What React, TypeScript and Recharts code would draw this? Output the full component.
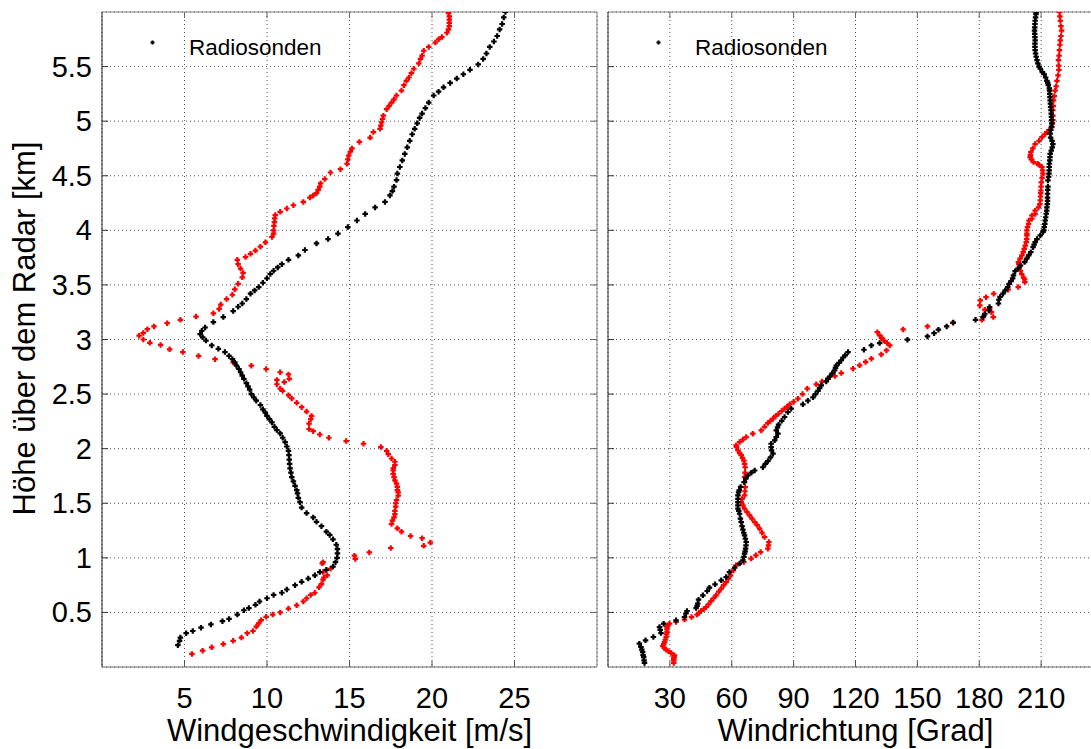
import React from "react";
import { ScatterChart, Scatter, XAxis, YAxis, CartesianGrid, ReferenceLine, Legend } from "recharts";

// ---------- DATA ----------
// [height km, wind speed m/s]
const speedRadiosonde: [number, number][] = [
  [0.2, 4.6], [0.24, 4.7], [0.27, 4.75], [0.31, 5.1], [0.33, 5.5], [0.36, 6.0], [0.39, 6.6], [0.42, 7.3], [0.44, 7.7],
  [0.48, 8.2], [0.52, 8.6], [0.54, 8.9], [0.57, 9.3], [0.6, 9.55], [0.63, 10.0], [0.66, 10.4], [0.68, 10.9], [0.71, 11.2],
  [0.75, 11.7], [0.78, 12.1], [0.81, 12.5], [0.84, 12.9], [0.87, 13.2], [0.89, 13.6], [0.92, 14.0], [0.96, 14.15],
  [1.0, 14.25], [1.04, 14.27], [1.08, 14.27], [1.12, 14.2], [1.17, 14.0], [1.21, 13.8], [1.24, 13.6], [1.29, 13.3],
  [1.33, 13.0], [1.37, 12.8], [1.41, 12.4], [1.46, 12.1], [1.51, 12.0], [1.55, 11.9], [1.59, 11.85], [1.62, 11.8],
  [1.66, 11.7], [1.7, 11.6], [1.74, 11.5], [1.78, 11.45], [1.82, 11.4], [1.86, 11.37], [1.9, 11.35], [1.94, 11.33],
  [1.98, 11.3], [2.02, 11.2], [2.06, 11.1], [2.1, 10.95], [2.14, 10.8], [2.17, 10.6], [2.2, 10.45], [2.24, 10.3],
  [2.27, 10.15], [2.3, 10.0], [2.33, 9.9], [2.36, 9.75], [2.4, 9.6], [2.44, 9.35], [2.47, 9.2], [2.5, 9.05],
  [2.54, 8.95], [2.57, 8.85], [2.6, 8.75], [2.64, 8.6], [2.67, 8.5], [2.7, 8.4], [2.73, 8.3], [2.76, 8.15],
  [2.79, 8.05], [2.82, 7.9], [2.85, 7.7], [2.885, 7.45], [2.915, 7.05], [2.946, 6.65], [2.99, 6.3], [3.02, 6.1],
  [3.05, 5.95], [3.08, 6.05], [3.11, 6.25], [3.16, 6.75], [3.205, 7.35], [3.26, 7.95], [3.3, 8.25], [3.33, 8.5],
  [3.37, 8.75], [3.42, 9.0], [3.45, 9.25], [3.48, 9.5], [3.52, 9.75], [3.56, 10.0], [3.6, 10.2], [3.63, 10.4],
  [3.66, 10.65], [3.69, 10.9], [3.73, 11.3], [3.77, 11.9], [3.82, 12.3], [3.88, 13.0], [3.92, 13.7], [3.97, 14.3],
  [4.03, 14.9], [4.09, 15.45], [4.15, 15.95], [4.21, 16.55], [4.26, 17.15], [4.32, 17.45], [4.36, 17.6], [4.4, 17.7],
  [4.46, 17.85], [4.52, 17.9], [4.58, 18.05], [4.64, 18.2], [4.7, 18.35], [4.76, 18.5], [4.82, 18.65], [4.88, 18.8],
  [4.93, 18.95], [4.98, 19.1], [5.03, 19.25], [5.07, 19.4], [5.12, 19.6], [5.17, 19.8], [5.235, 20.1], [5.27, 20.4],
  [5.31, 20.7], [5.35, 21.1], [5.39, 21.5], [5.43, 21.9], [5.47, 22.3], [5.52, 22.8], [5.57, 23.1], [5.62, 23.3],
  [5.68, 23.5], [5.73, 23.75], [5.78, 23.95], [5.84, 24.1], [5.89, 24.25], [5.95, 24.35], [6.0, 24.45],
];

const speedRadar: [number, number][] = [
  [0.12, 5.45], [0.15, 6.1], [0.18, 6.65], [0.21, 7.35], [0.24, 7.95], [0.27, 8.45], [0.31, 8.8], [0.33, 9.15],
  [0.37, 9.35], [0.4, 9.5], [0.43, 9.65], [0.46, 9.95], [0.48, 10.35], [0.5, 10.8], [0.535, 11.3], [0.565, 11.8],
  [0.6, 12.2], [0.63, 12.4], [0.66, 12.65], [0.68, 12.9], [0.73, 13.15], [0.76, 13.3], [0.8, 13.4], [0.82, 13.45],
  [0.84, 13.65], [0.87, 13.4], [0.9, 13.85], [0.95, 13.35], [0.96, 13.4], [0.99, 15.35], [1.02, 15.3], [1.05, 16.2],
  [1.09, 17.5], [1.11, 19.5], [1.14, 19.9], [1.18, 19.4], [1.2, 18.7], [1.24, 18.15], [1.27, 17.9], [1.31, 17.55],
  [1.34, 17.6], [1.37, 17.7], [1.4, 17.75], [1.43, 17.75], [1.47, 17.8], [1.5, 17.8], [1.53, 17.85], [1.57, 17.95],
  [1.6, 17.95], [1.62, 17.9], [1.65, 17.9], [1.68, 17.85], [1.71, 17.75], [1.74, 17.7], [1.77, 17.65], [1.8, 17.65],
  [1.82, 17.65], [1.85, 17.75], [1.88, 17.75], [1.91, 17.55], [1.95, 17.35], [1.98, 17.25], [2.015, 16.9],
  [2.045, 15.85], [2.07, 14.8], [2.1, 13.75], [2.13, 13.2], [2.16, 12.8], [2.18, 12.55], [2.23, 12.55], [2.27, 12.65],
  [2.3, 12.7], [2.34, 12.4], [2.38, 12.1], [2.42, 11.8], [2.46, 11.5], [2.49, 11.3], [2.53, 10.95], [2.55, 10.8],
  [2.59, 10.6], [2.63, 10.6], [2.61, 11.05], [2.64, 11.35], [2.68, 11.3], [2.7, 10.8], [2.73, 9.95], [2.76, 9.05],
  [2.79, 7.95], [2.82, 6.85], [2.85, 5.85], [2.885, 4.9], [2.91, 4.1], [2.95, 3.55], [2.97, 2.9], [3.0, 2.5],
  [3.035, 2.25], [3.06, 2.5], [3.095, 2.75], [3.12, 3.15], [3.15, 3.95], [3.18, 4.75], [3.21, 5.7], [3.24, 6.75],
  [3.28, 7.1], [3.32, 7.2], [3.37, 7.55], [3.41, 7.9], [3.46, 8.05], [3.51, 8.25], [3.57, 8.5], [3.61, 8.55],
  [3.65, 8.4], [3.69, 8.25], [3.73, 8.2], [3.755, 8.7], [3.785, 9.0], [3.815, 9.3], [3.85, 9.6], [3.89, 9.9],
  [3.94, 10.3], [3.97, 10.4], [4.0, 10.4], [4.04, 10.42], [4.075, 10.45], [4.11, 10.47], [4.14, 10.5], [4.17, 10.8],
  [4.2, 11.2], [4.23, 11.6], [4.26, 12.2], [4.3, 12.6], [4.32, 12.8], [4.34, 13.0], [4.37, 13.1], [4.4, 13.2],
  [4.43, 13.25], [4.47, 13.5], [4.53, 13.85], [4.56, 14.45], [4.61, 14.85], [4.65, 14.9], [4.685, 14.95],
  [4.72, 15.05], [4.75, 15.15], [4.81, 15.6], [4.85, 16.25], [4.9, 16.45], [4.93, 16.85], [4.96, 16.9], [4.99, 16.95],
  [5.02, 17.0], [5.05, 17.05], [5.11, 17.25], [5.14, 17.4], [5.17, 17.55], [5.2, 17.7], [5.235, 17.85], [5.28, 18.15],
  [5.33, 18.3], [5.37, 18.45], [5.4, 18.6], [5.44, 18.75], [5.48, 18.9], [5.53, 19.2], [5.57, 19.3], [5.6, 19.4],
  [5.645, 19.5], [5.68, 19.8], [5.72, 20.2], [5.75, 20.4], [5.77, 20.6], [5.81, 20.9], [5.84, 21.0], [5.87, 21.05],
  [5.9, 21.05], [5.93, 21.05], [5.96, 21.05], [5.99, 21.0],
];

// [height km, wind direction deg]
const dirRadiosonde: [number, number][] = [
  [0.037, 17.7], [0.06, 17.5], [0.09, 17.3], [0.11, 17.0], [0.137, 16.8], [0.16, 16.4], [0.183, 16.0], [0.214, 15.2],
  [0.244, 18.2], [0.275, 22.0], [0.311, 25.7], [0.34, 25.3], [0.366, 25.0], [0.397, 27.0], [0.428, 33.0],
  [0.458, 37.1], [0.49, 37.8], [0.513, 38.3], [0.54, 42.7], [0.56, 43.2], [0.58, 43.5], [0.617, 43.9], [0.657, 46.0],
  [0.696, 48.1], [0.727, 49.2], [0.757, 51.9], [0.794, 54.9], [0.824, 57.3], [0.87, 58.9], [0.91, 61.4],
  [0.947, 63.8], [0.977, 65.4], [1.008, 65.9], [1.038, 66.2], [1.06, 66.5], [1.084, 66.7], [1.115, 66.9],
  [1.145, 67.0], [1.175, 66.6], [1.206, 66.2], [1.23, 65.8], [1.258, 65.4], [1.29, 65.0], [1.328, 64.6],
  [1.36, 64.2], [1.404, 63.8], [1.43, 63.4], [1.45, 63.0], [1.48, 63.0], [1.511, 63.0], [1.54, 63.0], [1.572, 63.0],
  [1.6, 63.3], [1.618, 63.6], [1.65, 64.3], [1.694, 66.0], [1.725, 66.8], [1.755, 67.8], [1.78, 69.5], [1.8, 71.1],
  [1.83, 75.1], [1.86, 76.3], [1.886, 77.5], [1.92, 78.8], [1.954, 80.0], [1.985, 79.3], [2.015, 79.1],
  [2.045, 79.1], [2.076, 80.8], [2.107, 81.6], [2.137, 82.4], [2.167, 81.6], [2.195, 82.2], [2.22, 82.7],
  [2.255, 84.2], [2.29, 85.6], [2.335, 87.2], [2.366, 88.8], [2.406, 94.5], [2.44, 96.9], [2.47, 99.4],
  [2.5, 100.6], [2.53, 101.8], [2.555, 102.6], [2.58, 103.4], [2.616, 105.8], [2.64, 106.6], [2.66, 107.5],
  [2.69, 108.7], [2.717, 109.9], [2.74, 110.3], [2.76, 110.7], [2.785, 112.0], [2.81, 113.1], [2.835, 114.0],
  [2.855, 115.0], [2.885, 116.4], [2.906, 124.1], [2.946, 127.7], [2.967, 131.7], [2.998, 145.2], [3.028, 154.9],
  [3.058, 158.1], [3.09, 160.2], [3.12, 164.2], [3.155, 167.4], [3.18, 178.2], [3.205, 181.8], [3.236, 182.7],
  [3.266, 184.7], [3.297, 185.0], [3.33, 189.3], [3.364, 189.5], [3.39, 190.1], [3.42, 191.5], [3.45, 192.6],
  [3.48, 193.8], [3.51, 194.5], [3.535, 195.4], [3.56, 196.2], [3.587, 196.6], [3.626, 197.4], [3.65, 198.8],
  [3.678, 200.0], [3.709, 202.0], [3.74, 203.0], [3.77, 204.0], [3.8, 205.0], [3.846, 206.1], [3.87, 206.6],
  [3.892, 207.1], [3.92, 208.0], [3.953, 209.6], [3.984, 210.9], [4.0, 211.3], [4.03, 211.5], [4.06, 211.8],
  [4.09, 212.0], [4.12, 212.2], [4.152, 212.5], [4.18, 212.7], [4.21, 212.8], [4.24, 213.0], [4.27, 213.1],
  [4.3, 213.1], [4.335, 213.1], [4.37, 213.2], [4.4, 213.3], [4.457, 213.3], [4.49, 213.6], [4.52, 213.8],
  [4.55, 213.9], [4.58, 213.9], [4.61, 214.0], [4.64, 214.2], [4.67, 214.3], [4.7, 214.4], [4.73, 214.9],
  [4.76, 215.4], [4.79, 215.7], [4.82, 215.3], [4.85, 214.6], [4.885, 214.4], [4.92, 214.7], [4.95, 215.0],
  [4.98, 215.2], [5.01, 215.1], [5.04, 215.0], [5.07, 214.9], [5.1, 214.8], [5.13, 214.6], [5.16, 214.5],
  [5.19, 214.4], [5.22, 214.3], [5.25, 214.2], [5.28, 214.1], [5.3, 214.0], [5.33, 213.5], [5.35, 213.2],
  [5.37, 212.8], [5.4, 212.2], [5.43, 211.5], [5.45, 210.6], [5.48, 209.6], [5.5, 209.0], [5.53, 208.4],
  [5.56, 208.0], [5.59, 207.6], [5.62, 207.3], [5.65, 207.1], [5.68, 207.0], [5.71, 207.0], [5.74, 207.1],
  [5.77, 207.0], [5.8, 206.9], [5.83, 206.8], [5.86, 206.9], [5.89, 207.0], [5.92, 207.1], [5.95, 207.3],
  [5.98, 207.5], [6.0, 207.6],
];

const dirRadar: [number, number][] = [
  [0.037, 31.9], [0.06, 31.9], [0.077, 31.9], [0.09, 32.0], [0.107, 32.2], [0.128, 30.6], [0.145, 29.3],
  [0.159, 28.2], [0.175, 27.3], [0.192, 26.6], [0.21, 27.0], [0.229, 27.4], [0.25, 27.8], [0.275, 28.2],
  [0.3, 28.4], [0.32, 28.6], [0.345, 28.6], [0.366, 28.6], [0.38, 29.0], [0.397, 29.8], [0.412, 33.0],
  [0.434, 37.1], [0.457, 40.5], [0.48, 43.2], [0.496, 44.2], [0.513, 45.1], [0.53, 46.4], [0.549, 47.6],
  [0.575, 48.8], [0.604, 50.0], [0.63, 51.2], [0.657, 52.4], [0.69, 53.7], [0.718, 54.9], [0.75, 56.1],
  [0.778, 57.3], [0.81, 58.4], [0.84, 59.4], [0.885, 60.8], [0.931, 62.1], [0.962, 65.9], [0.993, 69.4],
  [1.023, 71.7], [1.053, 74.0], [1.084, 77.5], [1.115, 77.8], [1.145, 78.0], [1.19, 75.9], [1.23, 74.7],
  [1.267, 73.5], [1.3, 72.3], [1.328, 71.1], [1.36, 69.8], [1.389, 68.6], [1.42, 67.4], [1.45, 66.2],
  [1.48, 65.4], [1.511, 64.6], [1.54, 65.0], [1.572, 66.2], [1.61, 66.4], [1.648, 66.5], [1.694, 66.2],
  [1.74, 66.2], [1.78, 66.4], [1.83, 66.5], [1.86, 66.2], [1.89, 65.9], [1.915, 65.2], [1.94, 64.6],
  [1.96, 63.8], [1.985, 63.0], [2.015, 62.3], [2.03, 62.1], [2.06, 63.8], [2.083, 65.4], [2.106, 67.0],
  [2.137, 70.2], [2.167, 74.3], [2.2, 75.9], [2.234, 77.5], [2.255, 78.8], [2.275, 80.0], [2.3, 81.3],
  [2.32, 82.7], [2.345, 84.2], [2.366, 85.6], [2.385, 86.8], [2.406, 88.1], [2.43, 90.0], [2.458, 92.1],
  [2.5, 94.3], [2.55, 96.6], [2.589, 101.0], [2.615, 103.8], [2.641, 106.7], [2.665, 110.0], [2.692, 113.1],
  [2.733, 118.8], [2.763, 122.0], [2.795, 124.9], [2.824, 127.7], [2.863, 132.5], [2.9, 135.0], [2.946, 136.6],
  [2.97, 135.2], [2.99, 133.8], [3.015, 132.7], [3.037, 131.7], [3.067, 130.6], [3.092, 143.1], [3.12, 154.9],
  [3.153, 167.2], [3.18, 181.3], [3.205, 186.8], [3.22, 182.4], [3.25, 185.9], [3.273, 182.7], [3.285, 185.0],
  [3.312, 180.3], [3.358, 180.5], [3.388, 183.3], [3.419, 187.0], [3.456, 194.0], [3.48, 198.9], [3.526, 202.1],
  [3.55, 202.0], [3.566, 201.5], [3.6, 200.6], [3.63, 200.0], [3.663, 199.5], [3.69, 199.2], [3.709, 199.0],
  [3.74, 199.8], [3.77, 200.7], [3.8, 201.3], [3.83, 201.8], [3.86, 202.3], [3.892, 202.8], [3.92, 203.0],
  [3.953, 203.1], [3.97, 203.1], [3.999, 203.1], [4.03, 203.4], [4.06, 203.9], [4.09, 204.1], [4.106, 205.5],
  [4.136, 205.5], [4.15, 207.1], [4.18, 207.1], [4.21, 208.7], [4.24, 209.4], [4.274, 209.6], [4.31, 209.7],
  [4.34, 209.8], [4.365, 209.9], [4.4, 210.0], [4.44, 210.1], [4.48, 210.5], [4.52, 210.9], [4.55, 210.7],
  [4.58, 210.4], [4.6, 209.0], [4.61, 208.3], [4.625, 206.3], [4.65, 205.2], [4.67, 204.7], [4.69, 204.8],
  [4.716, 205.0], [4.75, 206.0], [4.79, 207.1], [4.82, 209.0], [4.853, 210.4], [4.88, 211.8], [4.9, 212.8],
  [4.92, 214.0], [4.945, 215.2], [4.98, 215.5], [5.01, 215.7], [5.05, 215.7], [5.1, 215.7], [5.14, 215.9],
  [5.19, 216.0], [5.23, 216.4], [5.28, 216.8], [5.32, 217.3], [5.37, 217.7], [5.42, 218.2], [5.47, 218.6],
  [5.51, 218.5], [5.56, 218.4], [5.6, 218.7], [5.65, 218.9], [5.7, 219.1], [5.74, 219.3], [5.78, 219.6],
  [5.83, 219.9], [5.87, 219.6], [5.92, 219.3], [5.96, 219.1], [6.0, 218.9],
];

const heightTicks = [0.5, 1, 1.5, 2, 2.5, 3, 3.5, 4, 4.5, 5, 5.5];
const speedTicks = [5, 10, 15, 20, 25];
const dirTicks = [30, 60, 90, 120, 150, 180, 210];
const heightDomain: [number, number] = [0, 6];
const speedDomain: [number, number] = [0, 30];
const dirDomain: [number, number] = [0, 240];

const seriesName = "Radiosonden";
const speedLabel = "Windgeschwindigkeit [m/s]";
const dirLabel = "Windrichtung [Grad]";
const heightLabel = "Höhe über dem Radar [km]";

// ---------- STYLE ----------
const FONT = "'Liberation Sans', Arial, Helvetica, sans-serif";
const PLOT_W = 495;
const PLOT_H = 655;
const TICK_LEN = 6;
const Y_MARGIN = 10;
const X_MARGIN = 20;
const Y_AXIS_W = 60;
const X_AXIS_H = 60;

const toPts = (arr: [number, number][]) => arr.map(([h, v]) => ({ h, v }));

const Marker = (props: any) => {
  const { cx, cy, fill } = props;
  if (cx == null || cy == null) return null;
  return (
    <path
      d={`M${cx - 2.75},${cy - 1.1}h5.5v2.2h-5.5z M${cx - 1.1},${cy - 2.75}h2.2v5.5h-2.2z`}
      fill={fill}
      stroke="none"
    />
  );
};

const YTick = (props: any) => {
  const { x, y, payload, showLabel } = props;
  const ax = x + Y_MARGIN;
  return (
    <g>
      <line x1={ax} y1={y} x2={ax + TICK_LEN} y2={y} stroke="#333" />
      <line x1={ax + PLOT_W} y1={y} x2={ax + PLOT_W - TICK_LEN} y2={y} stroke="#666" />
      {showLabel && (
        <text x={x} y={y + 10} textAnchor="end" fontSize={29} fontFamily={FONT} fill="#000">
          {payload.value}
        </text>
      )}
    </g>
  );
};

const XTick = (props: any) => {
  const { x, y, payload } = props;
  const ay = y - X_MARGIN;
  return (
    <g>
      <line x1={x} y1={ay} x2={x} y2={ay - TICK_LEN} stroke="#555" />
      <line x1={x} y1={ay - PLOT_H} x2={x} y2={ay - PLOT_H + TICK_LEN} stroke="#666" />
      <text x={x} y={y + 20.5} textAnchor="middle" fontSize={29} fontFamily={FONT} fill="#000">
        {payload.value}
      </text>
    </g>
  );
};

const XLabel = (text: string) => (props: any) => {
  const vb = props.viewBox || {};
  const cx = (vb.x ?? 0) + (vb.width ?? PLOT_W) / 2;
  const by = (vb.y ?? 667) + 74;
  return (
    <text x={cx} y={by} textAnchor="middle" fontSize={31} fontFamily={FONT} fill="#000">
      {text}
    </text>
  );
};

const YLabel = (text: string) => (props: any) => {
  const vb = props.viewBox || {};
  const bx = (vb.x ?? 42) + (vb.width ?? Y_AXIS_W) - 67;
  const cy = (vb.y ?? 12) + (vb.height ?? PLOT_H) / 2 - 11;
  return (
    <text
      x={bx}
      y={cy}
      textAnchor="middle"
      fontSize={31}
      fontFamily={FONT}
      fill="#000"
      transform={`rotate(-90, ${bx}, ${cy})`}
    >
      {text}
    </text>
  );
};

const LegendBox = (props: any) => {
  const items = (props.payload || []).filter((p: any) => p.type !== "none");
  return (
    <svg width={260} height={32} style={{ display: "block" }}>
      {items.map((it: any, i: number) => (
        <g key={i}>
          <path d="M1.5,11.5h4v2h-4z M2.5,10.5h2v4h-2z" fill={it.color || "#000"} />
          <text x={40} y={25} fontSize={22.5} fontFamily={FONT} fill="#000">
            {it.value}
          </text>
        </g>
      ))}
    </svg>
  );
};

const Panel = ({
  width,
  plotLeft,
  marginRight,
  xDomain,
  xTicks,
  xLabel,
  blackData,
  redData,
  showYLabels,
  legendLeft,
}: any) => (
  <ScatterChart
    width={width}
    height={749}
    margin={{ top: 12, right: marginRight, bottom: 82 - X_AXIS_H, left: plotLeft - Y_AXIS_W }}
  >
    <CartesianGrid stroke="#555" strokeDasharray="1 3" />
    <XAxis
      type="number"
      dataKey="v"
      domain={xDomain}
      ticks={xTicks}
      height={X_AXIS_H}
      allowDataOverflow
      tickSize={0}
      tickMargin={X_MARGIN}
      tickLine={false}
      axisLine={{ stroke: "#6e6e6e" }}
      tick={(p: any) => <XTick {...p} />}
      interval={0}
      label={{ content: XLabel(xLabel) }}
    />
    <YAxis
      type="number"
      dataKey="h"
      domain={heightDomain}
      ticks={heightTicks}
      width={Y_AXIS_W}
      allowDataOverflow
      tickSize={0}
      tickMargin={Y_MARGIN}
      tickLine={false}
      axisLine={{ stroke: "#222" }}
      tick={(p: any) => <YTick {...p} showLabel={showYLabels} />}
      interval={0}
      label={showYLabels ? { content: YLabel(heightLabel) } : undefined}
    />
    <ReferenceLine y={heightDomain[1]} stroke="#808080" ifOverflow="extendDomain" />
    <ReferenceLine x={xDomain[1]} stroke="#808080" ifOverflow="extendDomain" />
    <Legend
      layout="horizontal"
      verticalAlign="middle"
      align="center"
      content={(p: any) => <LegendBox {...p} />}
      wrapperStyle={{ left: legendLeft, top: 30, width: "auto", height: "auto" }}
    />
    <Scatter
      name={seriesName}
      data={toPts(redData)}
      fill="#ff0000"
      legendType="none"
      shape={<Marker />}
      isAnimationActive={false}
    />
    <Scatter
      name={seriesName}
      data={toPts(blackData)}
      fill="#000000"
      legendType="circle"
      shape={<Marker />}
      isAnimationActive={false}
    />
  </ScatterChart>
);

export default function App() {
  return (
    <div
      style={{
        position: "absolute",
        left: 0,
        top: 0,
        width: 1091,
        height: 749,
        overflow: "hidden",
        background: "#fff",
        fontFamily: FONT,
      }}
    >
      <div style={{ position: "absolute", left: 0, top: 0 }}>
        <Panel
          width={610}
          plotLeft={102}
          marginRight={13}
          xDomain={speedDomain}
          xTicks={speedTicks}
          xLabel={speedLabel}
          blackData={speedRadiosonde}
          redData={speedRadar}
          showYLabels={true}
          legendLeft={149}
        />
      </div>
      <div style={{ position: "absolute", left: 520, top: 0 }}>
        <Panel
          width={590}
          plotLeft={88}
          marginRight={7}
          xDomain={dirDomain}
          xTicks={dirTicks}
          xLabel={dirLabel}
          blackData={dirRadiosonde}
          redData={dirRadar}
          showYLabels={false}
          legendLeft={135}
        />
      </div>
    </div>
  );
}
